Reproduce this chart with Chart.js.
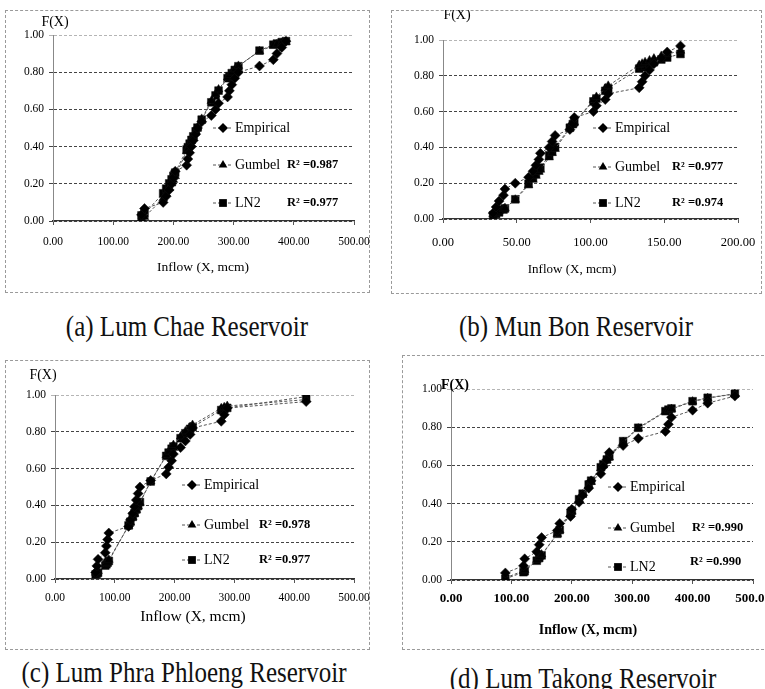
<!DOCTYPE html>
<html>
<head>
<title>Inflow frequency curves</title>
<script src="https://cdn.jsdelivr.net/npm/chart.js"></script>
<style>
    body {
        margin: 0;
        width: 765px;
        height: 689px;
        overflow: hidden;
        position: relative;
        background: #fff;
        font-family: "Liberation Serif", "Times New Roman", Times, "DejaVu Serif", serif;
    }
    .frame {
        position: absolute;
        box-sizing: border-box;
        border: 1px dashed #9a9a9a;
    }
    canvas {
        position: absolute;
    }
    .caption {
        position: absolute;
        width: 400px;
        text-align: center;
        font-size: 25px;
        line-height: 25px;
        white-space: nowrap;
        color: #111;
        transform: scaleY(1.2);
    }
</style>
</head>
<body>
<script>
    // tick labels
    const yTicks = ['0.00', '0.20', '0.40', '0.60', '0.80', '1.00'];
    const xTicks500 = ['0.00', '100.00', '200.00', '300.00', '400.00', '500.00'];
    const xTicks200 = ['0.00', '50.00', '100.00', '150.00', '200.00'];

    const seriesNames = ['Empirical', 'Gumbel', 'LN2'];
    const captions = ['(a) Lum Chae Reservoir', '(b) Mun Bon Reservoir',
                      '(c) Lum Phra Phloeng Reservoir', '(d) Lum Takong Reservoir'];
    const r2Gumbel = ['0.987', '0.977', '0.978', '0.990'];
    const r2LN2 = ['0.977', '0.974', '0.977', '0.990'];

    // (a) Lum Chae
    const inflowA = [147, 152, 183, 188, 193, 197, 200, 203, 222, 224, 227, 230, 233, 237, 240,
                     247, 263, 270, 275, 290, 293, 297, 302, 308, 343, 366, 372, 380, 387];
    const empA = [0.033, 0.067, 0.100, 0.133, 0.167, 0.200, 0.233, 0.267, 0.300, 0.333, 0.367, 0.400,
                  0.433, 0.467, 0.500, 0.533, 0.567, 0.600, 0.633, 0.667, 0.700, 0.733, 0.767, 0.800,
                  0.833, 0.867, 0.900, 0.933, 0.967];
    const gumA = [0.014, 0.021, 0.122, 0.148, 0.177, 0.202, 0.221, 0.241, 0.375, 0.389, 0.411, 0.432,
                  0.454, 0.482, 0.502, 0.549, 0.645, 0.682, 0.707, 0.772, 0.784, 0.798, 0.815, 0.834,
                  0.913, 0.943, 0.950, 0.957, 0.962];
    const ln2A = [0.030, 0.040, 0.149, 0.174, 0.202, 0.224, 0.242, 0.260, 0.384, 0.397, 0.416, 0.436,
                  0.455, 0.482, 0.502, 0.545, 0.638, 0.675, 0.701, 0.768, 0.779, 0.795, 0.812, 0.832,
                  0.916, 0.948, 0.954, 0.962, 0.967];

    // (b) Mun Bon
    const inflowB = [34, 36, 38, 41, 42, 49, 58, 61, 63, 65, 66, 72, 74, 76, 86, 88, 89, 102, 104,
                     110, 112, 133, 135, 137, 140, 143, 148, 152, 161];
    const empB = [0.033, 0.067, 0.100, 0.133, 0.167, 0.200, 0.233, 0.267, 0.300, 0.333, 0.367, 0.400,
                  0.433, 0.467, 0.500, 0.533, 0.567, 0.600, 0.633, 0.667, 0.700, 0.733, 0.767, 0.800,
                  0.833, 0.867, 0.900, 0.933, 0.967];
    const gumB = [0.027, 0.034, 0.042, 0.056, 0.061, 0.108, 0.188, 0.219, 0.241, 0.263, 0.275, 0.344,
                  0.368, 0.391, 0.506, 0.528, 0.539, 0.665, 0.682, 0.730, 0.744, 0.860, 0.868, 0.876,
                  0.886, 0.896, 0.911, 0.921, 0.940];
    const ln2B = [0.021, 0.028, 0.037, 0.053, 0.059, 0.110, 0.197, 0.230, 0.252, 0.275, 0.287, 0.356,
                  0.379, 0.402, 0.510, 0.530, 0.541, 0.657, 0.673, 0.716, 0.730, 0.840, 0.848, 0.855,
                  0.866, 0.876, 0.891, 0.902, 0.922];

    // (c) Lum Phra Phloeng
    const inflowC = [68, 70, 72, 84, 86, 88, 90, 123, 126, 130, 133, 136, 139, 142, 160, 186, 190,
                     195, 198, 210, 218, 226, 230, 278, 283, 288, 420];
    const empC = [0.036, 0.071, 0.107, 0.143, 0.179, 0.214, 0.250, 0.286, 0.321, 0.357, 0.393, 0.429,
                  0.464, 0.500, 0.536, 0.571, 0.607, 0.643, 0.679, 0.714, 0.750, 0.786, 0.821, 0.857,
                  0.893, 0.929, 0.964];
    const gumC = [0.034, 0.038, 0.043, 0.080, 0.087, 0.095, 0.104, 0.288, 0.308, 0.335, 0.355, 0.375,
                  0.395, 0.414, 0.530, 0.673, 0.692, 0.715, 0.728, 0.774, 0.802, 0.826, 0.837, 0.928,
                  0.934, 0.940, 0.975];
    const ln2C = [0.025, 0.029, 0.034, 0.073, 0.080, 0.089, 0.098, 0.291, 0.311, 0.338, 0.358, 0.378,
                  0.397, 0.418, 0.530, 0.669, 0.687, 0.708, 0.720, 0.765, 0.792, 0.816, 0.826, 0.918,
                  0.924, 0.930, 0.991];

    // (d) Lum Takong
    const inflowD = [90, 120, 122, 142, 146, 150, 176, 180, 198, 200, 212, 218, 228, 232, 248, 252,
                     258, 262, 285, 310, 355, 360, 365, 400, 425, 470];
    const empD = [0.037, 0.074, 0.111, 0.148, 0.185, 0.222, 0.259, 0.296, 0.333, 0.370, 0.407, 0.444,
                  0.481, 0.519, 0.556, 0.593, 0.630, 0.667, 0.704, 0.741, 0.778, 0.815, 0.852, 0.889,
                  0.926, 0.963];
    const gumD = [0.011, 0.048, 0.052, 0.105, 0.119, 0.133, 0.241, 0.260, 0.348, 0.358, 0.417, 0.447,
                  0.495, 0.513, 0.585, 0.601, 0.626, 0.641, 0.722, 0.793, 0.881, 0.889, 0.895, 0.934,
                  0.952, 0.974];
    const ln2D = [0.006, 0.041, 0.046, 0.101, 0.115, 0.129, 0.242, 0.262, 0.352, 0.362, 0.423, 0.452,
                  0.500, 0.520, 0.590, 0.606, 0.631, 0.647, 0.727, 0.797, 0.884, 0.892, 0.898, 0.936,
                  0.954, 0.975];

    const series = [
        { x: inflowA, emp: empA, gum: gumA, ln2: ln2A, xMax: 500, xStep: 100, xTicks: xTicks500 },
        { x: inflowB, emp: empB, gum: gumB, ln2: ln2B, xMax: 200, xStep: 50, xTicks: xTicks200 },
        { x: inflowC, emp: empC, gum: gumC, ln2: ln2C, xMax: 500, xStep: 100, xTicks: xTicks500 },
        { x: inflowD, emp: empD, gum: gumD, ln2: ln2D, xMax: 500, xStep: 100, xTicks: xTicks500 }
    ];

    // page geometry of each panel (box = frame, plot = left, right, top, bottom of plot area)
    const panels = [
        { box: [5, 10, 365, 283], plot: [53, 354, 35, 221], tickPad: 10, xFont: 11.5, bold: false,
          fx: [55, 22], xt: [203, 267], xtSize: 13.5, leg: { x: 213, y: [128, 165, 203], r2x: [287, 287], r2y: [165, 203] },
          cap: [187, 313] },
        { box: [391, 10, 371, 284], plot: [443, 738, 40, 219], tickPad: 12, xFont: 12.5, bold: false,
          fx: [457, 15], xt: [572, 270], xtSize: 13, leg: { x: 593, y: [128, 167, 203], r2x: [672, 672], r2y: [167, 203] },
          cap: [576, 313] },
        { box: [5, 360, 365, 290], plot: [55, 354, 395, 579], tickPad: 8, xFont: 11.5, bold: false,
          fx: [43, 375], xt: [193, 617], xtSize: 15.5, leg: { x: 182, y: [485, 525, 560], r2x: [259, 259], r2y: [525, 560] },
          cap: [184, 659] },
        { box: [402, 355, 372, 295], plot: [451, 753, 389, 580], tickPad: 7, xFont: 13, bold: true,
          fx: [455, 385], xt: [588, 630], xtSize: 14, leg: { x: 608, y: [487, 528, 567], r2x: [692, 690], r2y: [528, 562] },
          cap: [583, 665] }
    ];

    const styles = [
        { pointStyle: 'rectRot', pointRadius: 5 },
        { pointStyle: 'triangle', pointRadius: 5 },
        { pointStyle: 'rect', pointRadius: 5.5 }
    ];

    const serif = '"Liberation Serif", "Times New Roman", Times, "DejaVu Serif", serif';
    Chart.defaults.font.family = serif;
    Chart.defaults.color = '#111';

    function marker(ctx, style, x, y, r) {
        ctx.beginPath();
        if (style === 'rectRot') {
            ctx.moveTo(x, y - r); ctx.lineTo(x + r, y); ctx.lineTo(x, y + r); ctx.lineTo(x - r, y);
        } else if (style === 'triangle') {
            ctx.moveTo(x, y - r);
            ctx.lineTo(x + r * 0.866, y + r * 0.5);
            ctx.lineTo(x - r * 0.866, y + r * 0.5);
        } else {
            const s = r * Math.SQRT1_2;
            ctx.rect(x - s, y - s, 2 * s, 2 * s);
        }
        ctx.closePath();
        ctx.fill();
    }

    function overlay(p, k) {
        const ox = p.box[0], oy = p.box[1];
        return {
            id: 'overlay' + k,
            afterDatasetsDraw(chart) {
                const ctx = chart.ctx;
                ctx.save();
                ctx.fillStyle = '#000';
                ctx.textBaseline = 'middle';
                ctx.textAlign = 'center';
                ctx.font = (p.bold ? 'bold ' : '') + '14px ' + serif;
                ctx.fillText('F(X)', p.fx[0] - ox, p.fx[1] - oy);
                ctx.font = (p.bold ? 'bold ' : '') + p.xtSize + 'px ' + serif;
                ctx.fillText('Inflow (X, mcm)', p.xt[0] - ox, p.xt[1] - oy);

                chart.data.datasets.forEach((d, i) => {
                    const x = p.leg.x - ox, y = p.leg.y[i] - oy;
                    ctx.strokeStyle = '#555';
                    ctx.lineWidth = 1;
                    ctx.setLineDash([3, 2]);
                    ctx.beginPath(); ctx.moveTo(x, y); ctx.lineTo(x + 19, y); ctx.stroke();
                    ctx.setLineDash([]);
                    ctx.fillStyle = '#000';
                    marker(ctx, d.pointStyle, x + 10, y, d.pointRadius);
                    ctx.textAlign = 'left';
                    ctx.font = '14px ' + serif;
                    ctx.fillText(d.label, x + 22, y);
                });

                ctx.font = 'bold 12.5px ' + serif;
                ctx.textAlign = 'left';
                ctx.fillText('R\u00b2 =' + r2Gumbel[k], p.leg.r2x[0] - ox, p.leg.r2y[0] - oy);
                ctx.fillText('R\u00b2 =' + r2LN2[k], p.leg.r2x[1] - ox, p.leg.r2y[1] - oy);
                ctx.restore();
            }
        };
    }

    panels.forEach((p, k) => {
        const [bl, bt, bw, bh] = p.box;
        const [pl, pr, pt, pb] = p.plot;
        const s = series[k];

        const frame = document.createElement('div');
        frame.className = 'frame';
        Object.assign(frame.style, { left: bl + 'px', top: bt + 'px', width: bw + 'px', height: bh + 'px' });
        document.body.appendChild(frame);

        const cv = document.createElement('canvas');
        cv.width = bw; cv.height = bh;
        Object.assign(cv.style, { left: bl + 'px', top: bt + 'px', width: bw + 'px', height: bh + 'px' });
        document.body.appendChild(cv);

        const cap = document.createElement('div');
        cap.className = 'caption';
        cap.textContent = captions[k];
        cap.style.left = (p.cap[0] - 200) + 'px';
        cap.style.top = p.cap[1] + 'px';
        document.body.appendChild(cap);

        const values = [s.emp, s.gum, s.ln2];
        const datasets = values.map((v, i) => ({
            label: seriesNames[i],
            data: s.x.map((x, j) => ({ x: x, y: v[j] })),
            showLine: true,
            borderColor: '#555',
            borderWidth: 1,
            borderDash: [3, 2],
            backgroundColor: '#000',
            pointBackgroundColor: '#000',
            pointBorderColor: '#111',
            pointBorderWidth: 0.5,
            pointStyle: styles[i].pointStyle,
            pointRadius: styles[i].pointRadius
        }));

        new Chart(cv, {
            type: 'scatter',
            data: { datasets: datasets },
            options: {
                responsive: false,
                animation: false,
                events: [],
                layout: { padding: { top: pt - bt, right: bl + bw - pr, left: 0, bottom: 0 } },
                plugins: { legend: { display: false }, tooltip: { enabled: false } },
                scales: {
                    x: {
                        type: 'linear',
                        min: 0,
                        max: s.xMax,
                        ticks: {
                            stepSize: s.xStep,
                            padding: p.tickPad,
                            color: '#000',
                            font: { size: p.xFont, weight: p.bold ? 'bold' : 'normal' },
                            callback: (v, i) => s.xTicks[i]
                        },
                        grid: { drawOnChartArea: false, tickLength: 4, color: '#555' },
                        border: { color: '#333', width: 1.2 },
                        afterFit: sc => { sc.height = bt + bh - pb; sc.paddingLeft = 0; sc.paddingRight = 0; }
                    },
                    y: {
                        min: 0,
                        max: 1,
                        ticks: {
                            stepSize: 0.2,
                            padding: 5,
                            color: '#000',
                            font: { size: 11.5 },
                            callback: (v, i) => yTicks[i]
                        },
                        grid: {
                            tickLength: 4,
                            color: c => (c.tick && c.tick.value > 0.99) ? '#b5b5b5' : '#444'
                        },
                        border: { color: '#888', width: 1, dash: [3, 2] },
                        afterFit: sc => { sc.width = pl - bl; sc.paddingTop = 0; sc.paddingBottom = 0; }
                    }
                }
            },
            plugins: [overlay(p, k)]
        });
    });
</script>
</body>
</html>
